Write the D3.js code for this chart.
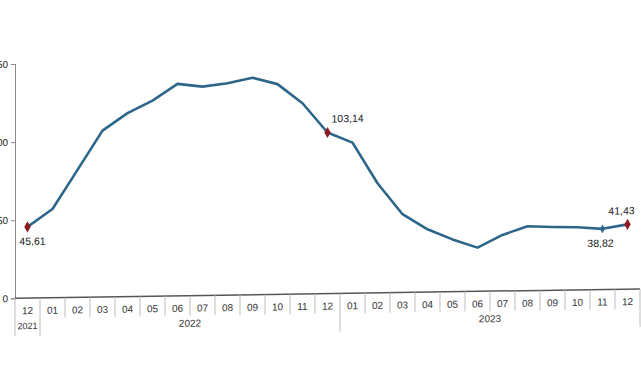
<!DOCTYPE html>
<html>
<head>
<meta charset="utf-8">
<script src="https://cdn.jsdelivr.net/npm/d3@7"></script>
<style>
  html, body { margin: 0; padding: 0; background: #fff; }
  svg { display: block; font-family: "Liberation Sans", Arial, sans-serif; }
</style>
</head>
<body>
<svg id="chart" width="641" height="380"></svg>
<script>
// ---- data ----
const months = ["12","01","02","03","04","05","06","07","08","09","10","11","12",
                "01","02","03","04","05","06","07","08","09","10","11","12"];
const years = ["2021","2022","2023"];
const yearSpans = [[0,0],[1,12],[13,24]];
const values = [45.61, 56.8, 81.6, 106.5, 117.5, 125.2, 135.7, 133.7, 135.6, 138.9, 134.6, 122.1,
                103.14, 96.4, 70.2, 50.1, 40.2, 33.5, 28.0, 35.9, 41.2, 40.5, 40.1, 38.82, 41.43];
const yTicks = [0, 50, 100, 150];
const redPoints = [0, 12, 24];
const bluePoints = [23];
const labels = [
  {i: 0, text: "45,61", pos: "below"},
  {i: 12, text: "103,14", pos: "aboveRight"},
  {i: 23, text: "38,82", pos: "below"},
  {i: 24, text: "41,43", pos: "above"}
];

// ---- layout ----
const svg = d3.select("#chart");
const left = 15, right = 640, baseY = 298.3, topY = 64;
const x = d3.scaleBand().domain(d3.range(months.length)).range([left, right]).padding(0);
const y = d3.scaleLinear().domain([0, 150]).range([baseY, topY]);

const g = svg.append("g")
  .attr("transform", `translate(${left},${baseY}) skewY(-0.86) translate(${-left},${-baseY})`);

// y axis
const yAxis = g.append("g").attr("transform", `translate(${left},0)`)
  .call(d3.axisLeft(y).tickValues(yTicks).tickSize(4).tickPadding(3).tickFormat(d3.format("d")));
yAxis.select(".domain").attr("stroke", "#888").attr("stroke-width", 1);
yAxis.selectAll(".tick line").attr("stroke", "#888");
yAxis.selectAll(".tick text").attr("font-size", 10).attr("fill", "#222")
  .attr("font-family", "Liberation Sans, Arial, sans-serif");

// x axis baseline
g.append("line").attr("x1", left).attr("x2", right).attr("y1", baseY).attr("y2", baseY)
  .attr("stroke", "#555").attr("stroke-width", 1.5);

// month separators
const sepX = d3.range(months.length + 1).map(i => i < months.length ? x(i) : right);
g.selectAll(".sep").data(sepX).join("line")
  .attr("x1", d => d).attr("x2", d => d)
  .attr("y1", baseY).attr("y2", (d, i) => (i === 0 || i === 1 || i === 13 || i === months.length) ? baseY + 38 : baseY + 20)
  .attr("stroke", "#bdbdbd").attr("stroke-width", 1);

// month labels
g.selectAll(".mlab").data(months).join("text")
  .attr("x", (d, i) => x(i) + x.bandwidth() / 2)
  .attr("y", baseY + 16)
  .attr("text-anchor", "middle").attr("font-size", 10).attr("fill", "#333")
  .text(d => d);

// year labels
g.selectAll(".ylab").data(years).join("text")
  .attr("x", (d, i) => (x(yearSpans[i][0]) + x(yearSpans[i][1]) + x.bandwidth()) / 2)
  .attr("y", baseY + 31)
  .attr("text-anchor", "middle").attr("font-size", (d, i) => i === 0 ? 9 : 10).attr("fill", "#333")
  .text(d => d);

// line
const line = d3.line().x((d, i) => x(i) + x.bandwidth() / 2).y(d => y(d));
g.append("path").datum(values)
  .attr("d", line).attr("fill", "none")
  .attr("stroke", "#2d6689").attr("stroke-width", 2.6).attr("stroke-linejoin", "round");

// markers
const diamond = d3.symbol().type(d3.symbolDiamond);
g.selectAll(".red").data(redPoints).join("path")
  .attr("transform", i => `translate(${x(i) + x.bandwidth() / 2},${y(values[i])})`)
  .attr("d", diamond.size(36)()).attr("fill", "#8e1b22");
g.selectAll(".blue").data(bluePoints).join("path")
  .attr("transform", i => `translate(${x(i) + x.bandwidth() / 2},${y(values[i])})`)
  .attr("d", diamond.size(22)()).attr("fill", "#2d6689");

// value labels
g.selectAll(".vlab").data(labels).join("text")
  .attr("x", d => {
    const cx = x(d.i) + x.bandwidth() / 2;
    return d.pos === "aboveRight" ? cx + 4 : cx + (d.i === 0 ? 5 : d.i === 24 ? -6 : -2);
  })
  .attr("y", d => {
    const cy = y(values[d.i]);
    return d.pos === "below" ? cy + 18 : cy - 10;
  })
  .attr("text-anchor", d => d.pos === "aboveRight" ? "start" : "middle")
  .attr("font-size", 10.5).attr("fill", "#222")
  .text(d => d.text);
</script>
</body>
</html>
